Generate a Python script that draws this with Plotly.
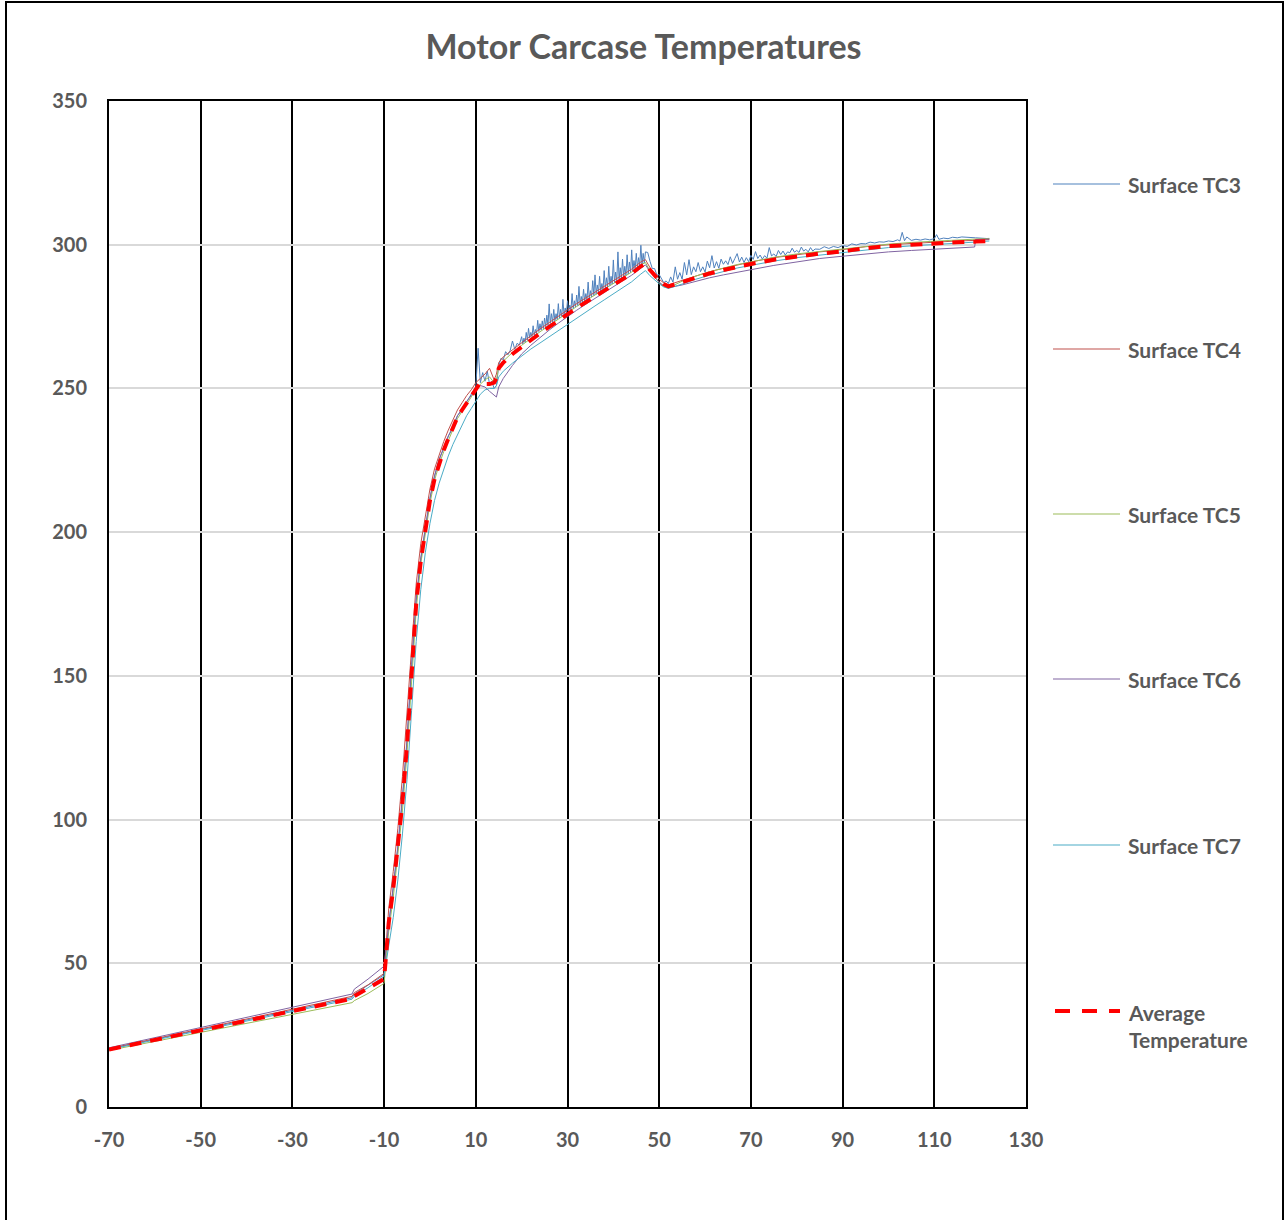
import plotly.graph_objects as go

# ---------------- data ----------------
x_common = [-70, -17, -16.5, -13.5, -10, -9.5, -9, -8, -7, -6, -5, -4, -3, -2, -1, 0, 1, 2, 3, 4, 5, 6, 7, 8, 9,
            10, 11, 12, 13, 14, 14.5, 15, 16, 18, 20, 22, 24, 26, 28, 30, 32, 34, 36, 38, 40, 42, 44, 46, 47,
            48, 49, 50, 51, 52, 55, 58, 61, 64, 67, 70, 75, 80, 85, 90, 95, 100, 105, 110, 115, 118.8, 119, 122]

avg_temp = [20.0, 37.7, 38.6, 41.3, 44.5, 54, 64, 76, 90, 106, 126, 152, 175, 190, 201, 211, 218.5, 224, 228.5,
            232.5, 236.5, 240, 242.5, 245, 247.5, 250, 252, 251.5, 251.5, 252, 253.5, 257, 259, 262, 264.5, 267,
            269.2, 271.4, 273.7, 276, 278, 280, 282, 284, 286, 288, 290, 292.5, 293.5, 291.2, 289.2, 287.6, 286.3,
            285.5, 287, 288.6, 290, 291.2, 292.4, 293.3, 294.8, 296, 296.9, 297.7, 298.8, 299.5, 300, 300.3,
            300.9, 301.0, 301.1, 301.3]

tc4 = [20.3, 38.5, 39.8, 42.5, 46.5, 58, 69, 82, 97, 115, 137, 162, 182, 196, 206, 215, 222, 227, 231.5, 235.5,
       239, 242.5, 245, 247.5, 249.5, 252, 253.5, 255, 257, 253, 255, 259, 261, 263.5, 266, 268.5, 270.7, 272.9,
       275.2, 277.5, 279.5, 281.5, 283.5, 285.5, 287.5, 289.5, 291.5, 294, 294.8, 292, 289.8, 288, 286.7, 286,
       287.6, 289.2, 290.6, 291.8, 293, 294, 295.5, 296.6, 297.5, 298.3, 299.3, 300, 300.5, 300.8, 301.3, 301.5,
       301.6, 301.8]

tc5 = [19.7, 36.3, 37, 39.5, 43, 52, 61, 73, 87, 103, 123, 150, 173, 189, 200, 210, 218, 223.5, 228, 232, 236,
       239.5, 242, 244.5, 247, 249.5, 251.5, 253, 254, 252, 253, 257.5, 259.5, 262.5, 265, 267.5, 269.7, 271.9,
       274.2, 276.5, 278.5, 280.5, 282.5, 284.5, 286.5, 288.5, 290.5, 293, 293.8, 290.8, 288.6, 286.8, 285.5, 285,
       287.3, 289.1, 290.6, 291.9, 293.1, 294, 295.6, 296.8, 297.7, 298.5, 299.5, 300.2, 300.8, 301.2, 301.7,
       301.9, 302, 302.2]

tc6 = [20.6, 39.3, 41, 44.5, 49, 56, 65, 77, 91, 108, 128, 154, 177, 191, 202, 212, 219.5, 225, 229.5, 233.5, 237,
       240.5, 243, 245.5, 247.5, 249.5, 251, 250.5, 249, 247.5, 247, 250.5, 253.5, 258, 262, 265, 267.8, 270.3,
       272.7, 275.1, 277.2, 279.3, 281.4, 283.4, 285.4, 287.4, 289.4, 292, 293, 290.6, 288.6, 287, 285.7, 285,
       286, 287.3, 288.5, 289.5, 290.5, 291.3, 292.8, 294, 295.2, 296, 296.8, 297.5, 298, 298.5, 299, 299.2,
       301.8, 302]

tc7 = [20.0, 37.5, 38.5, 41.5, 45.5, 50, 56, 66, 79, 95, 114, 138, 162, 180, 193, 203, 211, 217, 222, 226.5,
       230.5, 234, 237.5, 240.5, 243, 245.5, 248, 249.5, 250, 250, 251, 254, 256, 258.8, 261.3, 263.7, 265.8, 268,
       270.2, 272.4, 274.5, 276.6, 278.7, 280.8, 282.9, 285, 287.1, 289.8, 291, 289.2, 287.7, 286.4, 285.3, 284.8,
       286.3, 288, 289.4, 290.7, 291.9, 292.8, 294.3, 295.5, 296.4, 297.2, 298.3, 299, 299.6, 300, 300.6, 300.9,
       301, 301.3]

# Surface TC3 (noisy sensor) – sample times and readings
tc3_x = [-70, -17, -16.5, -13.5, -10, -9.5, -9, -8, -7, -6, -5, -4, -3, -2, -1, 0, 1, 2, 3, 4, 5, 6, 7, 8, 9,
         10, 10.5, 11, 11.5, 12, 12.5, 13, 13.5, 14, 14.5,
         15, 15.5, 16, 16.5, 17, 17.5, 18, 18.5, 19, 19.5,
         20, 20.25, 20.5, 20.75, 21, 21.25, 21.5, 21.75, 22, 22.25, 22.5, 22.75, 23, 23.25, 23.5, 23.75,
         24, 24.25, 24.5, 24.75, 25, 25.25, 25.5, 25.75, 26, 26.25, 26.5, 26.75, 27, 27.25, 27.5, 27.75,
         28, 28.25, 28.5, 28.75, 29, 29.25, 29.5, 29.75, 30, 30.25, 30.5, 30.75, 31, 31.25, 31.5, 31.75,
         32, 32.25, 32.5, 32.75, 33, 33.25, 33.5, 33.75, 34, 34.25, 34.5, 34.75, 35, 35.25, 35.5, 35.75,
         36, 36.25, 36.5, 36.75, 37, 37.25, 37.5, 37.75, 38, 38.25, 38.5, 38.75, 39, 39.25, 39.5, 39.75,
         40, 40.25, 40.5, 40.75, 41, 41.25, 41.5, 41.75, 42, 42.25, 42.5, 42.75, 43, 43.25, 43.5, 43.75,
         44, 44.25, 44.5, 44.75, 45, 45.25, 45.5, 45.75, 46, 46.25, 46.5, 46.75, 47,
         47.5, 48, 48.5, 49, 49.5, 50, 50.5, 51, 51.5, 52, 52.5, 53, 53.5, 54, 54.5,
         55, 55.5, 56, 56.5, 57, 57.5, 58, 58.5, 59, 59.5, 60, 60.5, 61, 61.5, 62, 62.5, 63, 63.5, 64, 64.5,
         65, 65.5, 66, 66.5, 67, 67.5, 68, 68.5, 69, 69.5, 70, 70.5, 71, 71.5, 72, 72.5, 73, 73.5, 74, 74.5,
         75, 75.5, 76, 76.5, 77, 77.5, 78, 78.5, 79, 79.5, 80, 80.5, 81, 81.5, 82, 82.5, 83, 83.5, 84,
         85, 86, 87, 88, 89, 90, 91, 92, 93, 94, 95, 96, 97, 98, 99, 100, 101, 102, 102.5, 103, 103.5, 104,
         105, 106, 107, 108, 109, 110, 110.5, 111, 112, 113, 114, 115, 116, 117, 118, 119, 120, 121, 122]

tc3_y = [20.2, 38.0, 39.3, 42.3, 46.0, 55.0, 64.0, 76.0, 90.0, 107.0, 127.0, 153.0, 176.0, 190.5, 201.5, 211.5,
         219.5, 225.5, 229.0, 233.5, 236.0, 240.5, 242.5, 245.5, 248.0, 250.5, 264.0, 252.0, 255.5, 252.5, 256.0,
         251.5, 252.5, 250.0, 251.0,
         258.0, 260.5, 260.0, 262.8, 261.7, 263.2, 266.5, 263.6, 265.7, 265.1,
         268.0, 265.5, 267.5, 266.0, 269.5, 266.8, 270.9, 267.6, 269.5, 268.0, 271.8, 268.6, 270.5, 269.0, 273.7, 269.8,
         272.5, 270.3, 273.5, 270.8, 274.5, 271.4, 275.5, 271.9, 279.4, 272.6, 276.0, 273.0, 277.5, 273.5, 276.0, 274.0,
         279.5, 274.5, 277.5, 275.0, 281.0, 275.5, 278.0, 276.0, 280.5, 276.8, 279.0, 277.2, 283.0, 277.8, 280.5, 278.3,
         282.5, 278.8, 285.5, 279.3, 282.0, 279.8, 284.5, 280.3, 283.0, 280.8, 287.0, 281.3, 284.0, 281.8, 287.5, 282.3,
         289.5, 282.8, 286.0, 283.3, 289.0, 283.8, 286.5, 284.3, 291.0, 284.8, 288.5, 285.3, 292.5, 285.8, 289.0, 286.3,
         294.7, 286.8, 290.5, 287.3, 297.5, 288.0, 292.0, 288.3, 295.0, 288.8, 292.5, 289.3, 296.5, 289.8, 294.0, 290.3,
         298.2, 290.9, 294.5, 291.5, 297.0, 292.0, 295.5, 292.6, 299.8, 293.0, 297.0, 293.6, 297.5,
         297.3, 294.2, 291.7, 291.7, 289.4, 289.6, 287.9, 286.8, 287.4, 286.5, 288.8, 287.0, 292.3, 288.0, 290.3,
         288.0, 293.8, 289.5, 294.8, 289.6, 292.3, 290.6, 293.8, 290.6, 292.3, 290.5, 294.3, 292.0, 296.2, 291.9,
         294.1, 291.8, 295.0, 293.2, 294.4,
         293.1, 295.8, 293.5, 295.2, 296.9, 294.0, 295.7, 293.8, 295.5, 294.1, 296.3, 294.9, 297.6, 295.2, 296.4,
         295.0, 296.2, 295.3, 299.0, 296.1,
         296.8, 295.9, 298.0, 296.6, 297.8, 296.4, 297.5, 297.2, 298.8, 297.4, 298.0, 297.3, 299.2, 297.8, 298.4,
         297.5, 299.0, 297.8, 298.5,
         298.4, 299.3, 298.7, 299.4, 299.0, 299.7, 299.4, 300.3, 299.9, 300.4, 300.3, 300.9, 300.6, 301.0, 300.9,
         301.3, 301.1, 301.7, 301.3, 304.3, 301.4, 302.7, 301.5, 301.9, 301.6, 302.0, 301.7, 302.1, 303.5, 301.9,
         302.3, 302.1, 302.6, 302.4, 302.7, 302.5, 302.5, 302.4, 302.4, 302.2, 302.1]

assert len(tc3_x) == len(tc3_y), (len(tc3_x), len(tc3_y))
for arr in (avg_temp, tc4, tc5, tc6, tc7):
    assert len(arr) == len(x_common), len(arr)

series_names = ["Surface TC3", "Surface TC4", "Surface TC5", "Surface TC6", "Surface TC7"]
avg_name = "Average Temperature"
x_ticks = [-70, -50, -30, -10, 10, 30, 50, 70, 90, 110, 130]
y_ticks = [0, 50, 100, 150, 200, 250, 300, 350]

# ---------------- styles ----------------
colors = ["#4F81BD", "#C0504D", "#9BBB59", "#8064A2", "#4BACC6"]
avg_color = "#FF0000"
text_color = "#595959"
FONT = "Lato"

W, H = 1287, 1220
L, R, T, B = 109, 1026, 101, 1107   # plot area in px

fig = go.Figure()
series_x = [tc3_x, x_common, x_common, x_common, x_common]
series_y = [tc3_y, tc4, tc5, tc6, tc7]
for name, xs, ys, c in zip(series_names, series_x, series_y, colors):
    fig.add_trace(go.Scatter(x=xs, y=ys, mode="lines", name=name,
                             line=dict(color=c, width=1), showlegend=False))
fig.add_trace(go.Scatter(x=x_common, y=avg_temp, mode="lines", name=avg_name,
                         line=dict(color=avg_color, width=4, dash="12px,9px"), showlegend=False))


def px_to_paper_x(px):
    return (px - L) / (R - L)


def px_to_paper_y(py):
    return (B - py) / (B - T)


shapes = []
annotations = []
# manual legend, spread vertically like the original
legend_rows = [184, 349, 514, 679, 845]
for name, c, py in zip(series_names, colors, legend_rows):
    shapes.append(dict(type="line", xref="paper", yref="paper",
                       x0=px_to_paper_x(1053), x1=px_to_paper_x(1120),
                       y0=px_to_paper_y(py), y1=px_to_paper_y(py),
                       line=dict(color=c, width=1.2)))
    annotations.append(dict(xref="paper", yref="paper", x=px_to_paper_x(1126), y=px_to_paper_y(py),
                            xanchor="left", yanchor="middle", showarrow=False, text="<b>%s</b>" % name,
                            font=dict(family=FONT, size=21, color=text_color)))
shapes.append(dict(type="line", xref="paper", yref="paper",
                   x0=px_to_paper_x(1055), x1=px_to_paper_x(1120),
                   y0=px_to_paper_y(1011), y1=px_to_paper_y(1011),
                   line=dict(color=avg_color, width=4, dash="15px,12px")))
annotations.append(dict(xref="paper", yref="paper", x=px_to_paper_x(1126), y=px_to_paper_y(1026),
                        xanchor="left", yanchor="middle", showarrow=False, align="left",
                        text="<b>Average</b><br><b>Temperature</b>",
                        font=dict(family=FONT, size=21, color=text_color)))

# outer frame of the chart
shapes.append(dict(type="rect", xref="paper", yref="paper",
                   x0=px_to_paper_x(6), x1=px_to_paper_x(1283),
                   y0=px_to_paper_y(1240), y1=px_to_paper_y(2),
                   line=dict(color="black", width=2), fillcolor="rgba(0,0,0,0)", layer="below"))

fig.update_layout(
    width=W, height=H,
    margin=dict(l=L, r=W - R, t=T, b=H - B),
    paper_bgcolor="white", plot_bgcolor="white",
    title=dict(text="<b>Motor Carcase Temperatures</b>", x=0.5, xanchor="center",
               y=1 - 47 / H, yanchor="middle", yref="container",
               font=dict(family=FONT, size=34, color=text_color)),
    shapes=shapes, annotations=annotations,
    showlegend=False,
)
fig.update_xaxes(range=[-70, 130], tickvals=x_ticks, ticktext=[str(v) for v in x_ticks],
                 showgrid=True, gridcolor="black", gridwidth=2,
                 showline=True, linecolor="black", linewidth=2, mirror=True,
                 zeroline=False, ticks="", ticklabelstandoff=14,
                 tickfont=dict(family=FONT, size=20, color=text_color, weight="bold"))
fig.update_yaxes(range=[0, 350], tickvals=y_ticks,
                 showgrid=True, gridcolor="#D9D9D9", gridwidth=1.5,
                 showline=True, linecolor="black", linewidth=2, mirror=True,
                 zeroline=False, ticks="", ticklabelstandoff=16,
                 tickfont=dict(family=FONT, size=20, color=text_color, weight="bold"))

fig.write_html("out.html", config={"displayModeBar": False},
               post_script="document.body.style.margin='0px';document.body.style.overflow='hidden';")
